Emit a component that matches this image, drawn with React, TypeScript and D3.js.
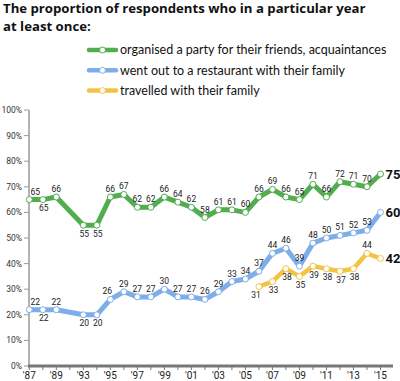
import React from 'react';
import * as d3 from 'd3';

const years = ['1987','1988','1989','gap','1993','1994','1995','1996','1997','1998','1999','2000','2001','2002','2003','2004','2005','2006','2007','2008','2009','2010','2011','2012','2013','2014','2015'];
const tickLabels = ["'87","","'89","","'93","","'95","","'97","","'99","","'01","","'03","","'05","","'07","","'09","","'11","","'13","","'15"];

const party = [65,65,66,null,55,55,66,67,62,62,66,64,62,58,61,61,60,66,69,66,65,71,66,72,71,70,75];
const restaurant = [22,22,22,null,20,20,26,29,27,27,30,27,27,26,29,33,34,37,44,46,39,48,50,51,52,53,60];
const travel = [null,null,null,null,null,null,null,null,null,null,null,null,null,null,null,null,null,31,33,38,35,39,38,37,38,44,42];

// label placement: a = above, b = below, r = above-right, l = above-left, bl = below-left
const partyPos = ['r','b','a','','b','b','a','a','a','a','a','a','a','a','a','a','a','a','a','a','a','a','a','a','a','a','end'];
const restaurantPos = ['r','b','a','','b','b','l','a','a','a','a','a','a','a','a','a','a','a','a','a','a','a','a','a','a','a','end'];
const travelPos = ['','','','','','','','','','','','','','','','','','bl','b','b','b','b','b','b','b','a','end'];

const seriesNames = ['organised a party for their friends, acquaintances','went out to a restaurant with their family','travelled with their family'];
const colors = ['#52ad4f','#7eaee9','#f3c443'];
const yTicks = [0,10,20,30,40,50,60,70,80,90,100];

const W = 400, H = 381;

export default function App() {
  const x = d3.scalePoint<string>().domain(years).range([29.3, 380.5]);
  const y = d3.scaleLinear().domain([0, 100]).range([366, 110]);
  const series = [
    { values: party, pos: partyPos, color: colors[0], width: 5 },
    { values: restaurant, pos: restaurantPos, color: colors[1], width: 5 },
    { values: travel, pos: travelPos, color: colors[2], width: 4.5 },
  ];
  const font = 'Roboto, sans-serif';
  return (
    <svg width={W} height={H} style={{ position: 'absolute', left: 0, top: 0, background: '#fff' }}>
      <text x={3} y={13} fontFamily="Open Sans, sans-serif" fontWeight={700} fontSize={13.2} fill="#111">The proportion of respondents who in a particular year</text>
      <text x={3} y={30.5} fontFamily="Open Sans, sans-serif" fontWeight={700} fontSize={13.2} fill="#111">at least once:</text>
      {seriesNames.map((n, i) => (
        <g key={n} transform={`translate(0,${50 + i * 20.3})`}>
          <line x1={89} x2={116} y1={0} y2={0} stroke={colors[i]} strokeWidth={4.5} strokeLinecap="round" />
          <circle cx={102.5} cy={0} r={3} fill="#fff" stroke={colors[i]} strokeWidth={1} />
          <text x={120} y={4.3} fontFamily="Lato, sans-serif" fontSize={12.5} fill="#111">{n}</text>
        </g>
      ))}
      {/* y axis */}
      <line x1={29} x2={29} y1={y(100)} y2={y(0)} stroke="#9a9a9a" strokeWidth={1.5} />
      {yTicks.map(t => (
        <g key={t}>
          <line x1={24} x2={29} y1={y(t)} y2={y(t)} stroke="#9a9a9a" strokeWidth={1} />
          <text x={22} y={y(t) + 3} textAnchor="end" fontFamily={font} fontSize={8.5} fill="#333">{t}%</text>
        </g>
      ))}
      {/* x axis */}
      <line x1={28} x2={393} y1={366} y2={366} stroke="#777" strokeWidth={3} />
      {years.map((yr, i) => (
        <g key={yr}>
          <line x1={x(yr)!} x2={x(yr)!} y1={366} y2={370} stroke="#777" strokeWidth={1} />
          {tickLabels[i] && <text x={x(yr)!} y={378.5} textAnchor="middle" fontFamily={font} fontSize={10} fill="#222">{tickLabels[i]}</text>}
        </g>
      ))}
      {series.map((s, si) => {
        const pts = years.map((yr, i) => ({ yr, v: s.values[i], p: s.pos[i] })).filter(d => d.v != null) as { yr: string; v: number; p: string }[];
        const line = d3.line<{ yr: string; v: number }>().x(d => x(d.yr)!).y(d => y(d.v));
        return (
          <g key={si}>
            <path d={line(pts) || ''} fill="none" stroke={s.color} strokeWidth={s.width} strokeLinejoin="round" />
            {pts.map(d => (
              <circle key={d.yr} cx={x(d.yr)!} cy={y(d.v)} r={3} fill="#fff" stroke={s.color} strokeWidth={1} />
            ))}
            {pts.map(d => {
              const cx = x(d.yr)!, cy = y(d.v);
              if (d.p === 'end') return <text key={'l' + d.yr} x={cx + 5} y={cy + 4.5} fontFamily={font} fontWeight={700} fontSize={13} fill="#111">{d.v}</text>;
              let dx = 0, dy = -5;
              if (d.p === 'b') { dx = 1; dy = 11.5; }
              if (d.p === 'r') { dx = 6; dy = -5; }
              if (d.p === 'l') { dx = -3; dy = -5; }
              if (d.p === 'bl') { dx = -3; dy = 11.5; }
              return <text key={'l' + d.yr} x={cx + dx} y={cy + dy} textAnchor="middle" fontFamily={font} fontSize={8.5} fill="#222">{d.v}</text>;
            })}
          </g>
        );
      })}
    </svg>
  );
}
